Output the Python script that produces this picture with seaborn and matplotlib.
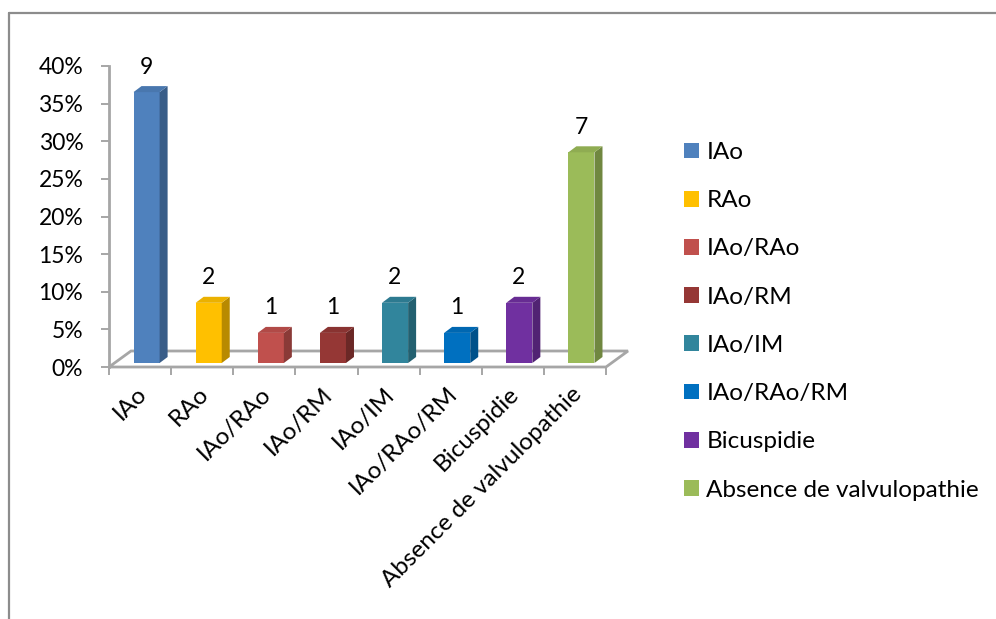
import matplotlib
matplotlib.use("Agg")
import matplotlib.pyplot as plt
import matplotlib.colors as mcolors
import numpy as np
import pandas as pd
import seaborn as sns
from matplotlib.patches import Polygon, Patch
from matplotlib.lines import Line2D
from matplotlib.transforms import ScaledTranslation
from matplotlib.ticker import FixedLocator, PercentFormatter

# ---- data -------------------------------------------------------------
categories = ["IAo", "RAo", "IAo/RAo", "IAo/RM", "IAo/IM",
              "IAo/RAo/RM", "Bicuspidie", "Absence de valvulopathie"]
counts = [9, 2, 1, 1, 2, 1, 2, 7]
colors = ["#4F81BD", "#FFC000", "#C0504D", "#953735",
          "#31859C", "#0070C0", "#7030A0", "#9BBB59"]
y_ticks = [0.00, 0.05, 0.10, 0.15, 0.20, 0.25, 0.30, 0.35, 0.40]

total = sum(counts)
shares = [c / total for c in counts]
df = pd.DataFrame({"cat": categories, "share": shares})

# ---- style ------------------------------------------------------------
sns.set_theme(style="ticks", rc={"text.color": "black",
                                 "xtick.labelcolor": "black",
                                 "ytick.labelcolor": "black"})
plt.rcParams["font.family"] = ["Lato", "DejaVu Sans"]
FS_NUM = 16.5     # numbers: percent ticks and value labels
FS_TXT = 17.5     # category names
GRAY = "#A6A6A6"

W, H = 996, 619
fig = plt.figure(figsize=(W / 100, H / 100), dpi=100)
ax = fig.add_axes([109 / W, 1 - 367 / H, (606 - 109) / W, (367 - 66) / H])

sns.barplot(data=df, x="cat", y="share", hue="cat", palette=colors,
            width=0.42, saturation=1, legend=False, ax=ax,
            edgecolor="none", linewidth=0, zorder=3)
ax.set_xlim(-0.5, len(categories) - 0.5)
ax.set_ylim(0, 0.40)
ax.set_xlabel("")
ax.set_ylabel("")

# pixel -> data scale for the pseudo-3D depth
fig.canvas.draw()
x0p, y0p = ax.transData.transform((0, 0))
x1p, y1p = ax.transData.transform((1, 1))
sx, sy = x1p - x0p, y1p - y0p

# bars stand in the middle of the floor depth
shift = ScaledTranslation(6.5 / 100, 4 / 100, fig.dpi_scale_trans)
ddx, ddy = 8 / sx, 6 / sy

def shade(c, f):
    r, g, b = mcolors.to_rgb(c)
    return (r * f, g * f, b * f)

bars = list(ax.patches)
for bar, col, n in zip(bars, colors, counts):
    bar.set_transform(ax.transData + shift)
    x, w, h = bar.get_x(), bar.get_width(), bar.get_height()
    side = Polygon([(x + w, 0), (x + w + ddx, ddy),
                    (x + w + ddx, h + ddy), (x + w, h)],
                   closed=True, facecolor=shade(col, 0.72), edgecolor="none",
                   transform=ax.transData + shift, zorder=3, clip_on=False)
    top = Polygon([(x, h), (x + w, h), (x + w + ddx, h + ddy), (x + ddx, h + ddy)],
                  closed=True, facecolor=shade(col, 0.92), edgecolor="none",
                  transform=ax.transData + shift, zorder=3, clip_on=False)
    ax.add_patch(side)
    ax.add_patch(top)
    ax.annotate(str(n), xy=(x + w / 2, h), xytext=(6, 29),
                textcoords="offset pixels", ha="center", va="center",
                fontsize=FS_NUM, color="black")

# floor of the plot
fdx, fdy = 22 / sx, 16 / sy
n = len(categories)
floor = Polygon([(-0.5, 0), (n - 0.5, 0), (n - 0.5 + fdx, fdy), (-0.5 + fdx, fdy)],
                closed=True, facecolor="none", edgecolor=GRAY, linewidth=2,
                zorder=1, clip_on=False)
ax.add_patch(floor)

# axes
sns.despine(ax=ax, top=True, right=True, bottom=True)
ax.spines["left"].set_color(GRAY)
ax.spines["left"].set_linewidth(2)
ax.yaxis.set_major_locator(FixedLocator(y_ticks))
ax.yaxis.set_major_formatter(PercentFormatter(1.0, decimals=0))
ax.tick_params(axis="y", length=5.5, width=1.4, color=GRAY, pad=13,
               labelsize=FS_NUM)
ax.set_xticks(range(n))
ax.set_xticklabels(categories, rotation=45, ha="right", va="center",
                   rotation_mode="anchor")
ax.xaxis.set_minor_locator(FixedLocator(np.arange(-0.5, n, 1.0)))
ax.tick_params(axis="x", which="major", length=0, pad=17, labelsize=FS_TXT)
ax.tick_params(axis="x", which="minor", length=6, width=1.4, color=GRAY)
for lbl in ax.get_xticklabels():
    lbl.set_transform(lbl.get_transform() +
                      ScaledTranslation(3 / 100, 0, fig.dpi_scale_trans))

# legend
handles = [Patch(facecolor=c, edgecolor="none") for c in colors]
fig.legend(handles, categories, loc="upper left",
           bbox_to_anchor=(684 / W, 1 - 142 / H), frameon=False,
           fontsize=FS_TXT, handlelength=0.62, handleheight=0.62,
           handletextpad=0.3, labelspacing=1.12, borderpad=0,
           borderaxespad=0)

# chart frame
fig.add_artist(Line2D([9 / W, 1], [1 - 13 / H, 1 - 13 / H],
                      transform=fig.transFigure, color="#8C8C8C", lw=1.6))
fig.add_artist(Line2D([9 / W, 9 / W], [0, 1 - 13 / H],
                      transform=fig.transFigure, color="#8C8C8C", lw=1.6))

fig.savefig("out.png", dpi=100)
